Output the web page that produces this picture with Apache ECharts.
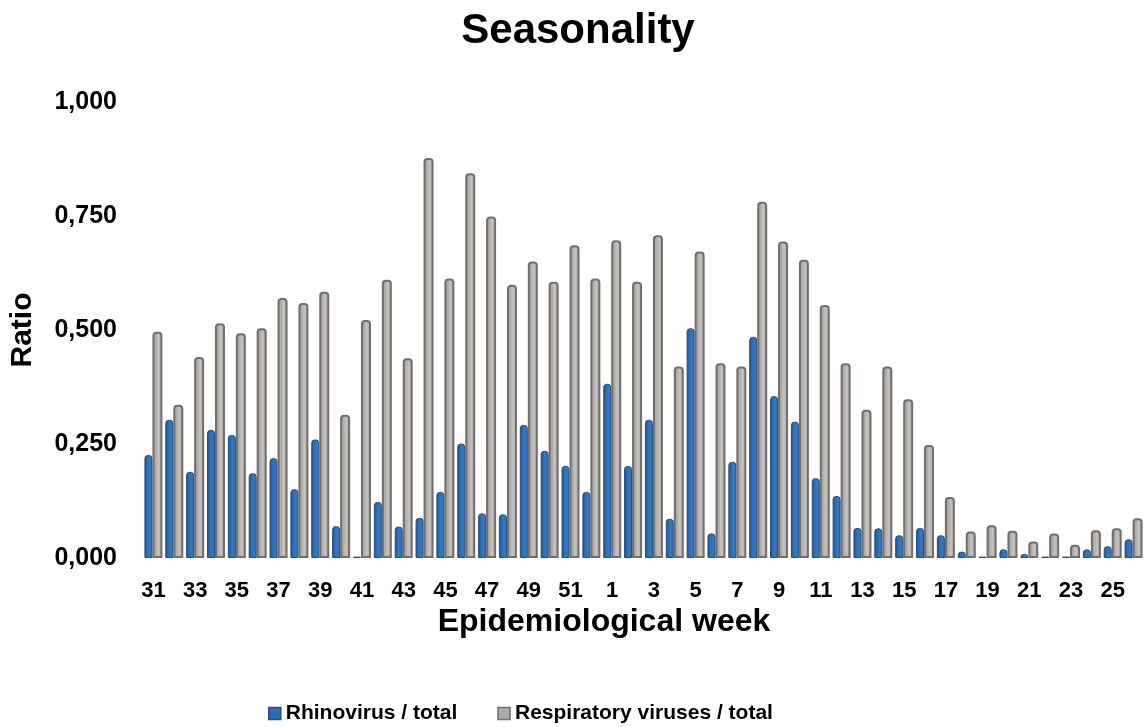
<!DOCTYPE html>
<html>
<head>
<meta charset="utf-8">
<title>Seasonality</title>
<script src="https://cdn.jsdelivr.net/npm/echarts@6/dist/echarts.min.js"></script>
<style>
  html, body { margin: 0; padding: 0; background: #ffffff; }
  #chart { width: 1144px; height: 727px; }
</style>
</head>
<body>
<div id="chart"></div>
<script>
// Epidemiological weeks: 31–52, then 1–26 of the following year
const weeks = [
  '31','32','33','34','35','36','37','38','39','40','41','42','43','44','45','46',
  '47','48','49','50','51','52',
  '1','2','3','4','5','6','7','8','9','10','11','12','13','14','15','16','17','18',
  '19','20','21','22','23','24','25','26'
];

// Rhinovirus positives / total samples
const rhinovirus = [
  0.226, 0.303, 0.189, 0.281, 0.270, 0.186, 0.219, 0.151, 0.260, 0.070, 0.003, 0.123,
  0.069, 0.088, 0.145, 0.251, 0.098, 0.096, 0.292, 0.235, 0.202, 0.145,
  0.382, 0.202, 0.303, 0.086, 0.504, 0.054, 0.211, 0.485, 0.355, 0.299, 0.175, 0.136,
  0.066, 0.065, 0.050, 0.066, 0.050, 0.014, 0.003, 0.019, 0.009, 0.003, 0.003, 0.019,
  0.026, 0.041
];

// All respiratory viruses positives / total samples
const respiratory = [
  0.496, 0.336, 0.441, 0.515, 0.493, 0.504, 0.570, 0.559, 0.584, 0.314, 0.522, 0.610,
  0.438, 0.877, 0.613, 0.844, 0.749, 0.599, 0.650, 0.606, 0.686, 0.613,
  0.697, 0.606, 0.708, 0.420, 0.672, 0.427, 0.420, 0.781, 0.694, 0.654, 0.555, 0.427,
  0.325, 0.420, 0.348, 0.248, 0.134, 0.058, 0.072, 0.060, 0.036, 0.054, 0.029, 0.061,
  0.065, 0.087
];

const yTicks = [0, 0.25, 0.5, 0.75, 1];

const FONT = "'Liberation Sans', Arial, sans-serif";

const chart = echarts.init(document.getElementById('chart'), null, { renderer: 'canvas' });

// Cylinder-like shading for the bars
const blueFill = new echarts.graphic.LinearGradient(0, 0, 1, 0, [
  { offset: 0, color: '#1b4f8a' },
  { offset: 0.3, color: '#2b6aae' },
  { offset: 0.65, color: '#3679c3' },
  { offset: 1, color: '#2c6aae' }
]);
const greyFill = new echarts.graphic.LinearGradient(0, 0, 1, 0, [
  { offset: 0, color: '#9a9694' },
  { offset: 0.35, color: '#b1adab' },
  { offset: 0.6, color: '#c6c3c1' },
  { offset: 1, color: '#a29e9c' }
]);

chart.setOption({
  backgroundColor: '#ffffff',
  animation: false,
  textStyle: { fontFamily: FONT },
  grid: { left: 143, top: 102, width: 1003, height: 456 },
  xAxis: {
    type: 'category',
    data: weeks,
    axisLine: { show: false },
    axisTick: { show: false },
    axisLabel: {
      interval: 1,
      margin: 22,
      color: '#000000',
      fontSize: 22,
      fontWeight: 'bold',
      fontFamily: FONT
    }
  },
  yAxis: {
    type: 'value',
    min: yTicks[0],
    max: yTicks[yTicks.length - 1],
    interval: 0.25,
    splitLine: { show: false },
    axisLine: { show: false },
    axisTick: { show: false },
    axisLabel: {
      margin: 26,
      color: '#000000',
      fontSize: 25,
      fontWeight: 'bold',
      fontFamily: FONT,
      formatter: v => v.toFixed(3).replace('.', ',')
    }
  },
  legend: {
    left: 263,
    top: 698,
    itemWidth: 12,
    itemHeight: 12,
    itemGap: 40,
    textStyle: { color: '#000000', fontSize: 21, fontWeight: 'bold', fontFamily: FONT },
    data: [
      { name: 'Rhinovirus / total', icon: 'rect',
        itemStyle: { color: '#2e6db2', borderColor: '#1d4f86', borderWidth: 1.5 } },
      { name: 'Respiratory viruses / total', icon: 'rect',
        itemStyle: { color: '#b0acaa', borderColor: '#6f6b69', borderWidth: 1.5 } }
    ]
  },
  graphic: [
    {
      type: 'text', x: 578, y: 31,
      style: {
        text: 'Seasonality',
        fill: '#000000', font: "bold 42px " + FONT,
        textAlign: 'center', textVerticalAlign: 'middle'
      }
    },
    {
      type: 'text', x: 604, y: 622,
      style: {
        text: 'Epidemiological week',
        fill: '#000000', font: "bold 32px " + FONT,
        textAlign: 'center', textVerticalAlign: 'middle'
      }
    },
    {
      type: 'text', x: 23, y: 330, rotation: Math.PI / 2,
      style: {
        text: 'Ratio',
        fill: '#000000', font: "bold 30px " + FONT,
        textAlign: 'center', textVerticalAlign: 'middle'
      }
    }
  ],
  series: [
    {
      name: 'Rhinovirus / total',
      type: 'bar',
      data: rhinovirus,
      barWidth: 8,
      barGap: '0%',
      itemStyle: {
        color: blueFill,
        borderColor: '#1d4f86',
        borderWidth: 1,
        borderRadius: [3, 3, 0, 0]
      }
    },
    {
      name: 'Respiratory viruses / total',
      type: 'bar',
      data: respiratory,
      barWidth: 10,
      itemStyle: {
        color: greyFill,
        borderColor: '#726e6c',
        borderWidth: 2,
        borderRadius: [3, 3, 0, 0]
      }
    }
  ]
});
</script>
</body>
</html>
